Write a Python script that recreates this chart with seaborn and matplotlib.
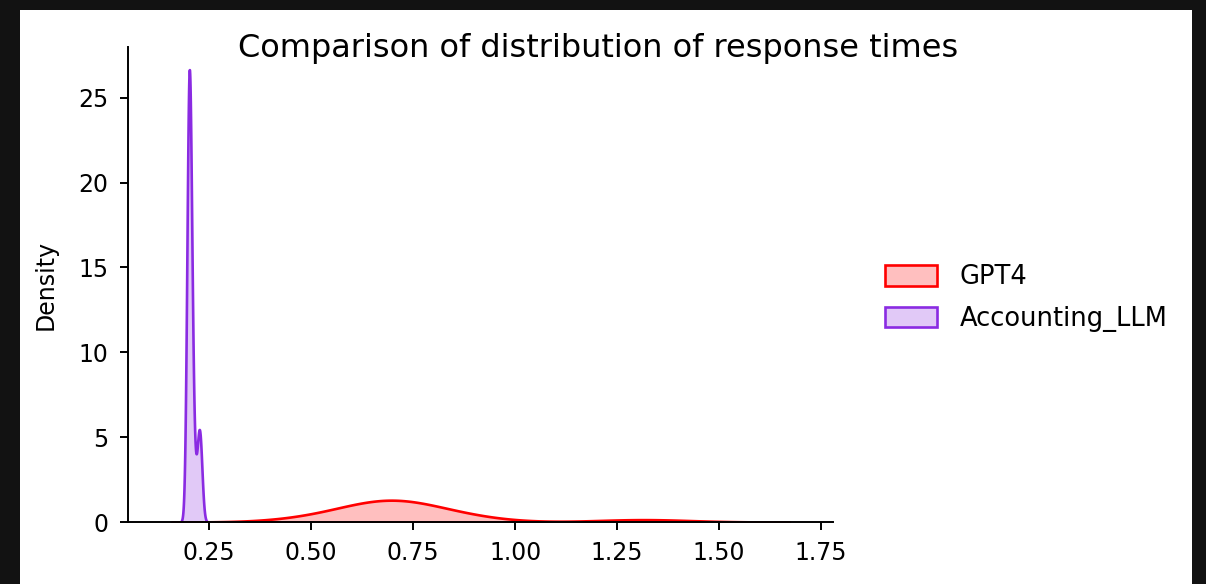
import matplotlib
matplotlib.use('Agg')
import matplotlib.pyplot as plt
from matplotlib.patches import Rectangle
from matplotlib.ticker import MultipleLocator
import pandas as pd
import seaborn as sns

# response times (seconds)
gpt4_times = [0.47, 0.53, 0.57, 0.60, 0.62, 0.64, 0.65, 0.66, 0.67, 0.68, 0.69, 0.70, 0.70,
              0.71, 0.72, 0.73, 0.74, 0.76, 0.78, 0.80, 0.83, 0.86, 0.91, 1.27, 1.36]
accounting_times = [0.197, 0.197, 0.198, 0.199, 0.199, 0.200, 0.200, 0.200, 0.201, 0.201, 0.201,
                    0.202, 0.202, 0.203, 0.203, 0.204, 0.205, 0.205, 0.207, 0.210, 0.213,
                    0.222, 0.225, 0.227, 0.230]
models = ['GPT4', 'Accounting_LLM']
colors = ['red', 'blueviolet']

df = pd.DataFrame({
    'Model': ['GPT4'] * len(gpt4_times) + ['Accounting_LLM'] * len(accounting_times),
    'Response time': gpt4_times + accounting_times,
})

plt.rcParams['axes.linewidth'] = 1.4
plt.rcParams['xtick.major.size'] = 6
plt.rcParams['ytick.major.size'] = 6
plt.rcParams['xtick.major.width'] = 1.4
plt.rcParams['ytick.major.width'] = 1.4

fig = plt.figure(figsize=(12.06, 5.84), dpi=100, facecolor='#121212')
# white notebook output area inside the dark frame
fig.patches.append(Rectangle((20 / 1206, 0), 1172 / 1206, 574 / 584, transform=fig.transFigure,
                             facecolor='white', edgecolor='none', zorder=-1))
ax = fig.add_axes([128 / 1206, 62 / 584, 705 / 1206, 475 / 584])

sns.kdeplot(data=df, x='Response time', hue='Model', hue_order=models,
            palette=dict(zip(models, colors)), fill=True, linewidth=1.9, ax=ax)
sns.despine(ax=ax)

ax.set_xlim(0.051, 1.779)
ax.xaxis.set_major_locator(MultipleLocator(0.25))
ax.set_xlabel('')
ax.set_ylabel('Density', fontsize=17, labelpad=15)
ax.tick_params(labelsize=17, pad=8)

sns.move_legend(ax, 'center left', bbox_to_anchor=(862 / 1206, 1 - 298 / 584),
                bbox_transform=fig.transFigure, frameon=False, title=None,
                fontsize=18.5, handlelength=2.0, handleheight=0.85, handletextpad=0.9,
                labelspacing=0.6)

fig.text(598 / 1206, 1 - 57 / 584, 'Comparison of distribution of response times',
         ha='center', va='baseline', fontsize=23)

fig.savefig('out.png', dpi=100, facecolor=fig.get_facecolor())
